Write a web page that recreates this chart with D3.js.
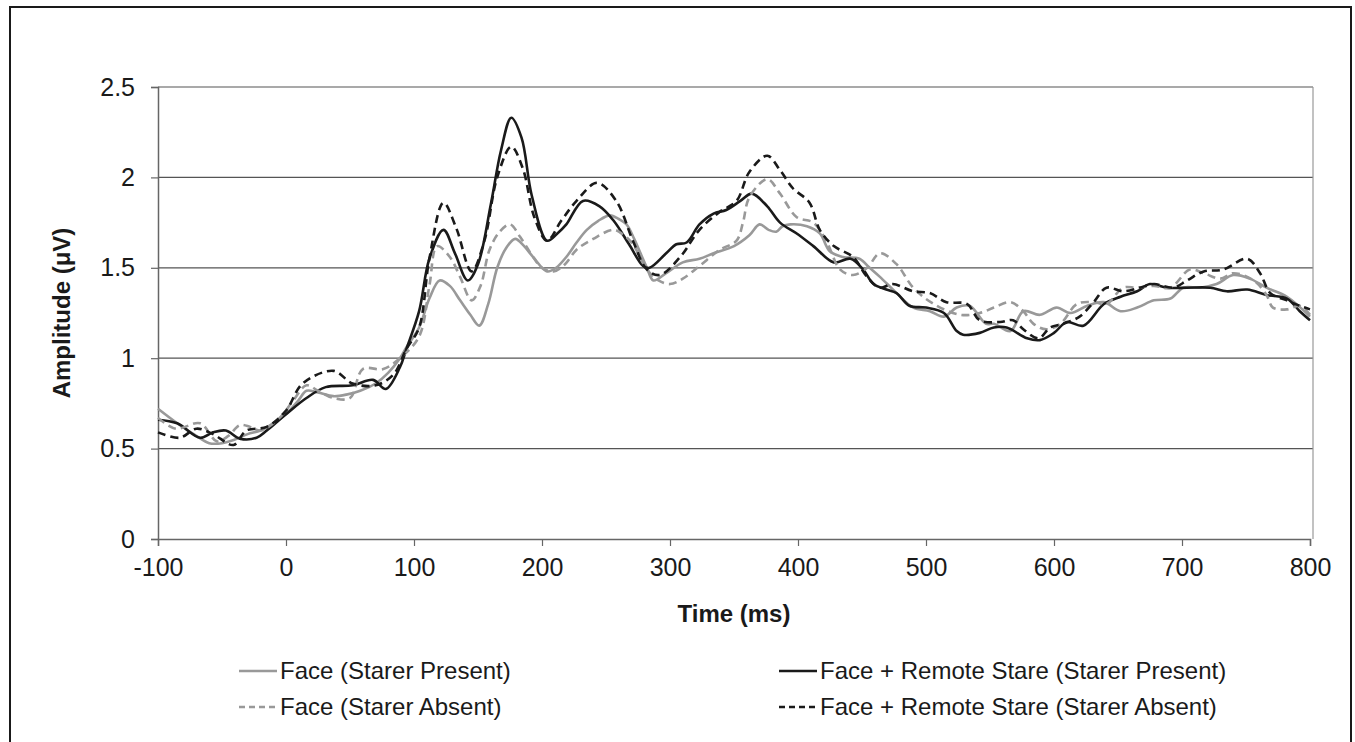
<!DOCTYPE html>
<html>
<head>
<meta charset="utf-8">
<script src="https://cdn.jsdelivr.net/npm/d3@7/dist/d3.min.js"></script>
<style>
  body { margin: 0; background: #fff; }
  svg text { font-family: "Liberation Sans", Arial, sans-serif; fill: #1a1a1a; }
</style>
</head>
<body>
<div id="chart"></div>
<script>
// ERP traces, [time (ms), amplitude (µV)]
const faceStarerPresent = [
  [-100, 0.72], [-85, 0.64], [-70, 0.57], [-60, 0.53], [-50, 0.53], [-40, 0.55], [-30, 0.58],
  [-20, 0.60], [-10, 0.64], [0, 0.69], [10, 0.77], [16, 0.82], [25, 0.81], [37, 0.79], [48, 0.80],
  [58, 0.82], [70, 0.86], [80, 0.92], [89, 1.0], [94, 1.06], [104, 1.17], [112, 1.33], [120, 1.43],
  [128, 1.40], [136, 1.32], [144, 1.24], [151, 1.18], [158, 1.30], [165, 1.50], [172, 1.61],
  [179, 1.66], [186, 1.62], [193, 1.56], [204, 1.48], [211, 1.50], [219, 1.56], [227, 1.64],
  [235, 1.71], [244, 1.76], [253, 1.79], [260, 1.77], [266, 1.74], [272, 1.66], [277, 1.58],
  [282, 1.50], [287, 1.43], [297, 1.47], [310, 1.53], [323, 1.55], [334, 1.58], [350, 1.62],
  [362, 1.68], [370, 1.74], [377, 1.71], [383, 1.70], [388, 1.73], [394, 1.74], [407, 1.73],
  [417, 1.69], [425, 1.59], [435, 1.56], [448, 1.55], [456, 1.50], [464, 1.45], [477, 1.36],
  [490, 1.28], [503, 1.26], [514, 1.23], [524, 1.28], [534, 1.29], [547, 1.19], [553, 1.19],
  [566, 1.15], [576, 1.26], [589, 1.24], [602, 1.28], [613, 1.25], [626, 1.29], [639, 1.31],
  [652, 1.26], [665, 1.28], [678, 1.32], [691, 1.33], [701, 1.39], [714, 1.39], [727, 1.41],
  [740, 1.46], [753, 1.44], [766, 1.39], [782, 1.34], [800, 1.23]
];

const faceStarerAbsent = [
  [-100, 0.67], [-86, 0.61], [-67, 0.64], [-54, 0.54], [-45, 0.57], [-36, 0.63], [-28, 0.62],
  [-20, 0.60], [-5, 0.67], [5, 0.76], [16, 0.85], [25, 0.82], [37, 0.78], [50, 0.78], [60, 0.94],
  [76, 0.94], [89, 1.0], [104, 1.12], [112, 1.40], [118, 1.62], [128, 1.56], [136, 1.45],
  [145, 1.32], [152, 1.40], [159, 1.60], [167, 1.70], [175, 1.74], [183, 1.67], [193, 1.56],
  [200, 1.50], [209, 1.48], [218, 1.52], [227, 1.60], [240, 1.66], [256, 1.71], [264, 1.68],
  [271, 1.63], [282, 1.49], [291, 1.43], [300, 1.41], [310, 1.44], [323, 1.51], [339, 1.60],
  [352, 1.65], [357, 1.75], [362, 1.89], [376, 1.99], [386, 1.91], [399, 1.78], [412, 1.75],
  [422, 1.65], [433, 1.49], [443, 1.46], [454, 1.50], [464, 1.58], [477, 1.52], [490, 1.39],
  [506, 1.30], [527, 1.24], [542, 1.25], [553, 1.28], [566, 1.31], [576, 1.26], [584, 1.19],
  [594, 1.16], [605, 1.19], [618, 1.30], [631, 1.31], [641, 1.30], [654, 1.39], [665, 1.39],
  [678, 1.40], [691, 1.39], [706, 1.49], [717, 1.47], [730, 1.44], [740, 1.47], [756, 1.43],
  [766, 1.35], [771, 1.28], [782, 1.27], [792, 1.29], [800, 1.24]
];

const remoteStarerPresent = [
  [-100, 0.66], [-85, 0.64], [-67, 0.56], [-57, 0.59], [-47, 0.60], [-36, 0.555], [-23, 0.56],
  [-15, 0.60], [0, 0.69], [16, 0.78], [31, 0.84], [52, 0.85], [68, 0.88], [78, 0.83], [89, 0.95],
  [94, 1.05], [104, 1.26], [112, 1.55], [123, 1.71], [132, 1.58], [142, 1.43], [150, 1.52],
  [160, 1.85], [168, 2.15], [176, 2.33], [184, 2.22], [192, 1.90], [204, 1.65], [212, 1.69],
  [219, 1.74], [232, 1.87], [245, 1.84], [256, 1.76], [268, 1.63], [279, 1.51], [284, 1.50],
  [297, 1.58], [305, 1.63], [313, 1.64], [323, 1.74], [334, 1.80], [344, 1.82], [355, 1.87],
  [364, 1.91], [376, 1.84], [386, 1.75], [399, 1.69], [412, 1.62], [428, 1.53], [441, 1.55],
  [451, 1.49], [459, 1.41], [469, 1.38], [477, 1.36], [487, 1.29], [500, 1.28], [514, 1.25],
  [524, 1.15], [529, 1.13], [542, 1.14], [553, 1.17], [563, 1.17], [579, 1.11], [589, 1.10],
  [600, 1.14], [610, 1.20], [623, 1.18], [639, 1.30], [652, 1.34], [665, 1.37], [675, 1.41],
  [688, 1.39], [704, 1.39], [722, 1.39], [735, 1.37], [751, 1.38], [766, 1.35], [782, 1.33],
  [792, 1.26], [800, 1.21]
];

const remoteStarerAbsent = [
  [-100, 0.59], [-83, 0.56], [-70, 0.61], [-57, 0.58], [-41, 0.52], [-31, 0.60], [-15, 0.62],
  [0, 0.71], [13, 0.86], [37, 0.93], [52, 0.86], [70, 0.85], [84, 0.91], [94, 1.05], [104, 1.17],
  [112, 1.55], [123, 1.86], [133, 1.72], [145, 1.48], [155, 1.65], [165, 2.00], [176, 2.17],
  [185, 2.05], [194, 1.78], [204, 1.65], [215, 1.76], [227, 1.87], [243, 1.97], [258, 1.87],
  [271, 1.65], [282, 1.49], [292, 1.46], [308, 1.56], [323, 1.71], [339, 1.81], [352, 1.87],
  [362, 2.03], [376, 2.12], [386, 2.04], [396, 1.94], [409, 1.86], [417, 1.71], [428, 1.62],
  [443, 1.56], [454, 1.45], [464, 1.39], [474, 1.41], [490, 1.37], [503, 1.36], [516, 1.31],
  [532, 1.30], [542, 1.21], [558, 1.20], [568, 1.21], [576, 1.16], [588, 1.11], [597, 1.17],
  [607, 1.19], [620, 1.23], [631, 1.31], [641, 1.39], [654, 1.37], [667, 1.39], [678, 1.41],
  [693, 1.39], [704, 1.43], [717, 1.48], [732, 1.49], [751, 1.55], [761, 1.47], [769, 1.36],
  [782, 1.32], [792, 1.29], [800, 1.27]
];

const xTicks = [-100, 0, 100, 200, 300, 400, 500, 600, 700, 800];
const yTicks = [0, 0.5, 1, 1.5, 2, 2.5];

const series = [
  { name: "Face (Starer Present)", values: faceStarerPresent, color: "#999999", dash: null },
  { name: "Face + Remote Stare (Starer Present)", values: remoteStarerPresent, color: "#1a1a1a", dash: null },
  { name: "Face (Starer Absent)", values: faceStarerAbsent, color: "#999999", dash: "8,5" },
  { name: "Face + Remote Stare (Starer Absent)", values: remoteStarerAbsent, color: "#1a1a1a", dash: "8,5" }
];

const W = 1355, H = 742;
const plot = { left: 158, right: 1310, top: 87, bottom: 539 };

const svg = d3.select("#chart").append("svg")
    .attr("width", W)
    .attr("height", H);

svg.append("rect").attr("width", W).attr("height", H).attr("fill", "#fff");

// outer frame
svg.append("rect")
    .attr("x", 10).attr("y", 7)
    .attr("width", 1341).attr("height", 780)
    .attr("fill", "none")
    .attr("stroke", "#1a1a1a")
    .attr("stroke-width", 2);

const x = d3.scaleLinear().domain([-100, 800]).range([plot.left, plot.right]);
const y = d3.scaleLinear().domain([0, 2.5]).range([plot.bottom, plot.top]);

// gridlines
svg.append("g")
  .selectAll("line")
  .data(yTicks.filter(d => d > 0))
  .enter().append("line")
    .attr("x1", plot.left).attr("x2", plot.right + 3)
    .attr("y1", d => y(d)).attr("y2", d => y(d))
    .attr("stroke", "#555")
    .attr("stroke-width", 1.2);

// right edge of plot area
svg.append("line")
    .attr("x1", plot.right + 3).attr("x2", plot.right + 3)
    .attr("y1", plot.top).attr("y2", plot.bottom)
    .attr("stroke", "#999")
    .attr("stroke-width", 1.2);

// plain hyphen for negatives, like the original
const plain = d => String(d);

// y axis
const yAxis = svg.append("g")
    .attr("transform", `translate(${plot.left},0)`)
    .call(d3.axisLeft(y).tickValues(yTicks).tickSize(7).tickPadding(16).tickFormat(plain));

// x axis
const xAxis = svg.append("g")
    .attr("transform", `translate(0,${plot.bottom})`)
    .call(d3.axisBottom(x).tickValues(xTicks).tickSize(7).tickPadding(12).tickFormat(plain));

[yAxis, xAxis].forEach(a => {
  a.select(".domain").attr("stroke", "#666").attr("stroke-width", 1.5);
  a.selectAll(".tick line").attr("stroke", "#666").attr("stroke-width", 1.2);
  a.selectAll(".tick text")
      .style("font-family", '"Liberation Sans", Arial, sans-serif')
      .style("font-size", "25px")
      .attr("fill", "#1a1a1a");
});

// axis titles
svg.append("text")
    .attr("x", (plot.left + plot.right) / 2)
    .attr("y", 622)
    .attr("text-anchor", "middle")
    .style("font-size", "24px")
    .style("font-weight", "bold")
    .text("Time (ms)");

svg.append("text")
    .attr("transform", `translate(70,${(plot.top + plot.bottom) / 2}) rotate(-90)`)
    .attr("text-anchor", "middle")
    .style("font-size", "24px")
    .style("font-weight", "bold")
    .text("Amplitude (μV)");

// traces
const line = d3.line()
    .x(d => x(d[0]))
    .y(d => y(d[1]))
    .curve(d3.curveCatmullRom.alpha(0.5));

svg.append("g")
  .selectAll("path")
  .data(series)
  .enter().append("path")
    .attr("d", d => line(d.values))
    .attr("fill", "none")
    .attr("stroke", d => d.color)
    .attr("stroke-width", 2.6)
    .attr("stroke-dasharray", d => d.dash);

// legend, two columns
const legend = svg.append("g")
  .selectAll("g")
  .data(series)
  .enter().append("g")
    .attr("transform", (d, i) => `translate(${i % 2 === 0 ? 239 : 779},${i < 2 ? 671 : 707})`);

legend.append("line")
    .attr("x1", 0).attr("x2", 38)
    .attr("stroke", d => d.color)
    .attr("stroke-width", 2.6)
    .attr("stroke-dasharray", d => d.dash ? "6,4" : null);

legend.append("text")
    .attr("x", 41)
    .attr("dy", "0.35em")
    .style("font-size", "24px")
    .text(d => d.name);
</script>
</body>
</html>
